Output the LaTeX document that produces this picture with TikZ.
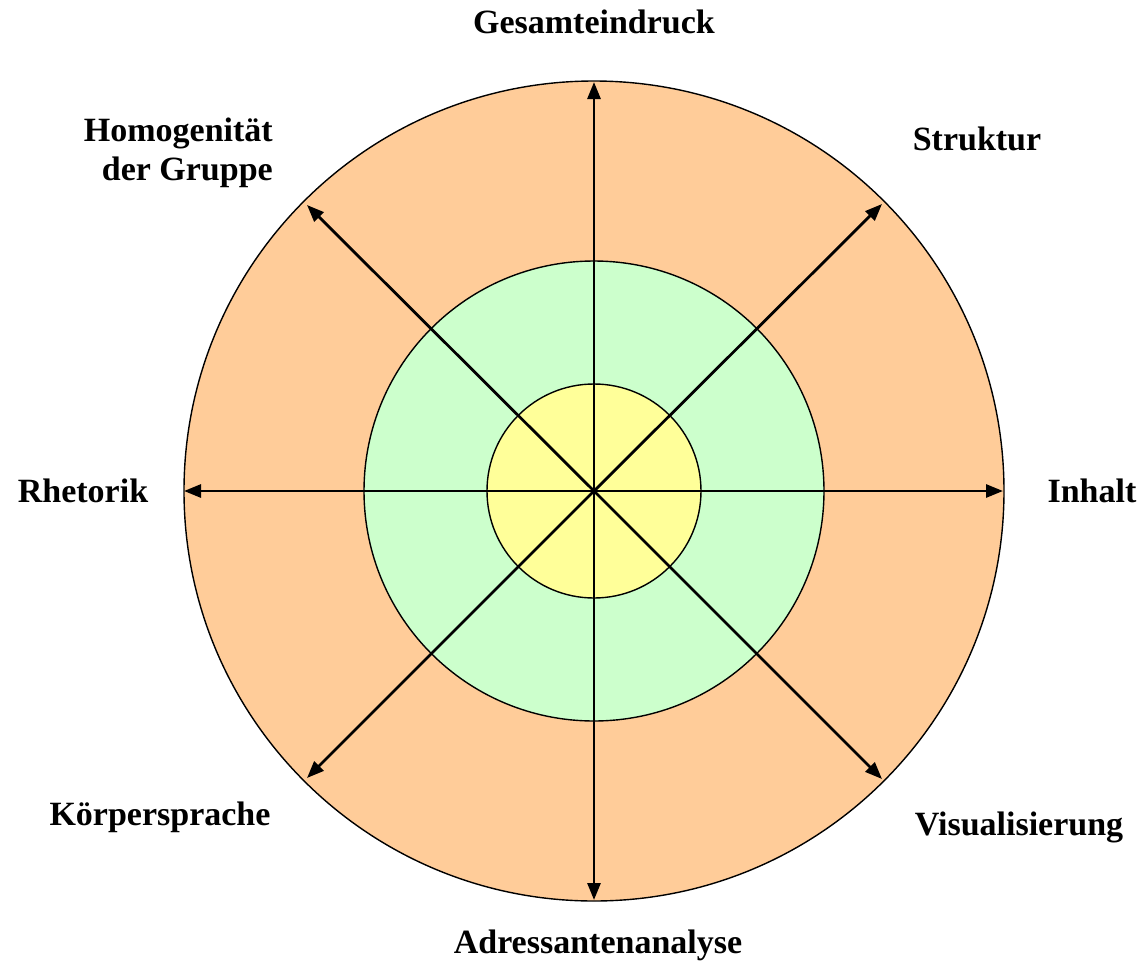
\documentclass[tikz,border=0pt]{standalone}
\usepackage{fontspec}
\setmainfont{Liberation Serif}
\usetikzlibrary{arrows.meta}
\definecolor{ringout}{HTML}{FFCC99}
\definecolor{ringmid}{HTML}{CCFFCC}
\definecolor{ringin}{HTML}{FFFF99}
\tikzset{
  ring/.style={draw=black, line width=1.4pt},
  axisarrow/.style={line width=2.8pt, -{Triangle[length=17pt,width=13pt]}},
  lbl/.style={font=\fontsize{34}{39}\selectfont\bfseries, inner sep=0pt, align=center}
}
\begin{document}
\begin{tikzpicture}[x=1pt,y=-1pt]
\useasboundingbox (0,0) rectangle (1144,967);
\coordinate (c) at (594,491);
\fill[ring, fill=ringout] (c) circle[radius=410];
\fill[ring, fill=ringmid] (c) circle[radius=230];
\fill[ring, fill=ringin] (c) circle[radius=107];
\coordinate (n) at (594,82);
\coordinate (s) at (594,900);
\coordinate (w) at (184,491);
\coordinate (e) at (1003,491);
\coordinate (ne) at (882,204);
\coordinate (nw) at (307,205);
\coordinate (sw) at (307,778);
\coordinate (se) at (882,779);
\foreach \p in {n,s,w,e,ne,nw,sw,se} \draw[axisarrow] (c) -- (\p);
\node[lbl] (gesamt) at (594,22) {Gesamteindruck};
\node[lbl] (struktur) at (977,139) {Struktur};
\node[lbl, align=right, anchor=east] (homog) at (273,153) {Homogenität\\der Gruppe};
\node[lbl] (rhet) at (83,491) {Rhetorik};
\node[lbl] (inhalt) at (1092,491) {Inhalt};
\node[lbl] (koerper) at (160,817) {Körpersprache};
\node[lbl] (visual) at (1019,827) {Visualisierung};
\node[lbl] (adress) at (598,945) {Adressantenanalyse};
\end{tikzpicture}
\end{document}
